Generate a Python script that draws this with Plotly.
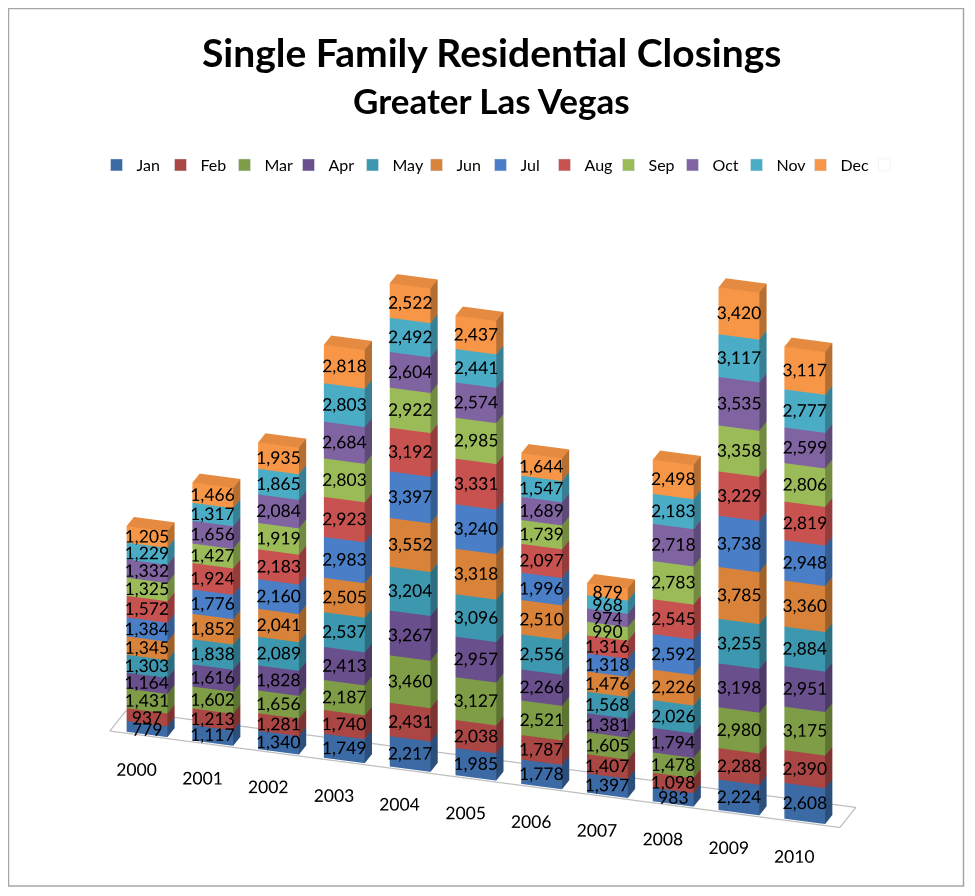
import math
import plotly.graph_objects as go

years = ["2000", "2001", "2002", "2003", "2004", "2005", "2006", "2007", "2008", "2009", "2010"]
months = ["Jan", "Feb", "Mar", "Apr", "May", "Jun", "Jul", "Aug", "Sep", "Oct", "Nov", "Dec"]

jan = [779, 1117, 1340, 1749, 2217, 1985, 1778, 1397, 983, 2224, 2608]
feb = [937, 1213, 1281, 1740, 2431, 2038, 1787, 1407, 1098, 2288, 2390]
mar = [1431, 1602, 1656, 2187, 3460, 3127, 2521, 1605, 1478, 2980, 3175]
apr = [1164, 1616, 1828, 2413, 3267, 2957, 2266, 1381, 1794, 3198, 2951]
may = [1303, 1838, 2089, 2537, 3204, 3096, 2556, 1568, 2026, 3255, 2884]
jun = [1345, 1852, 2041, 2505, 3552, 3318, 2510, 1476, 2226, 3785, 3360]
jul = [1384, 1776, 2160, 2983, 3397, 3240, 1996, 1318, 2592, 3738, 2948]
aug = [1572, 1924, 2183, 2923, 3192, 3331, 2097, 1316, 2545, 3229, 2819]
sep = [1325, 1427, 1919, 2803, 2922, 2985, 1739, 990, 2783, 3358, 2806]
oct_ = [1332, 1656, 2084, 2684, 2604, 2574, 1689, 974, 2718, 3535, 2599]
nov = [1229, 1317, 1865, 2803, 2492, 2441, 1547, 968, 2183, 3117, 2777]
dec = [1205, 1466, 1935, 2818, 2522, 2437, 1644, 879, 2498, 3420, 3117]

series = [jan, feb, mar, apr, may, jun, jul, aug, sep, oct_, nov, dec]
colors = ["#3C6AA5", "#AA4643", "#7E9D46", "#694F8C", "#3D97AE", "#D9823A",
          "#4A7EC6", "#C85250", "#9BBB59", "#8064A2", "#4BACC6", "#F79646"]

FONT = "Lato"
W = 0.62   # column width (category units)
D = 0.34   # column depth
THETA = math.radians(18)   # view azimuth
PHI = math.radians(24)     # view elevation
LAB_Y = -0.3               # labels sit in front of the front face
LAB_DX = -LAB_Y * math.tan(THETA)
LAB_DZ = 640
ZOOM = 1.81


def shade(hexc, f):
    h = hexc.lstrip("#")
    r, g, b = int(h[0:2], 16), int(h[2:4], 16), int(h[4:6], 16)
    return "rgb(%d,%d,%d)" % (int(r * f), int(g * f), int(b * f))


fig = go.Figure()

cum = [0] * len(years)
label_x, label_y, label_z, label_t = [], [], [], []
for name, vals, col in zip(months, series, colors):
    xs, ys, zs, I, J, K, fc = [], [], [], [], [], [], []
    for yi, v in enumerate(vals):
        z0 = cum[yi]
        z1 = z0 + v
        x0, x1 = yi - W / 2, yi + W / 2
        y0, y1 = 0.0, D
        base = len(xs)
        for (a, b, c) in [(x0, y0, z0), (x1, y0, z0), (x1, y1, z0), (x0, y1, z0),
                          (x0, y0, z1), (x1, y0, z1), (x1, y1, z1), (x0, y1, z1)]:
            xs.append(a); ys.append(b); zs.append(c)
        faces = [(0, 1, 5, 1.0), (0, 5, 4, 1.0),
                 (1, 2, 6, 0.74), (1, 6, 5, 0.74),
                 (4, 5, 6, 0.93), (4, 6, 7, 0.93),
                 (3, 0, 4, 1.0), (3, 4, 7, 1.0),
                 (2, 3, 7, 1.0), (2, 7, 6, 1.0),
                 (0, 3, 2, 1.0), (0, 2, 1, 1.0)]
        for (p, q, r, f) in faces:
            I.append(base + p); J.append(base + q); K.append(base + r)
            fc.append(shade(col, f))
        label_x.append(yi + LAB_DX); label_y.append(LAB_Y); label_z.append((z0 + z1) / 2 + LAB_DZ)
        label_t.append(f"{v:,}")
        cum[yi] = z1
    fig.add_trace(go.Mesh3d(x=xs, y=ys, z=zs, i=I, j=J, k=K, facecolor=fc,
                            flatshading=True, hoverinfo="skip", showlegend=False,
                            lighting=dict(ambient=1, diffuse=0, specular=0, roughness=1, fresnel=0)))
    # legend proxy
    fig.add_trace(go.Bar(x=[None], y=[None], name=name, marker_color=col, showlegend=True))

# empty trailing legend slot so the last entry's text is not clipped
fig.add_trace(go.Bar(x=[None], y=[None], name=" ", marker_color="rgba(0,0,0,0)", showlegend=True,
                     hoverinfo="skip"))

# floor outline
fx = [-0.55, 10.55, 10.55, -0.55, -0.55]
fy = [-0.05, -0.05, 0.70, 0.70, -0.05]
fig.add_trace(go.Scatter3d(x=fx, y=fy, z=[0] * 5, mode="lines",
                           line=dict(color="#BFBFBF", width=2.5), hoverinfo="skip", showlegend=False))

# value labels
fig.add_trace(go.Scatter3d(x=label_x, y=label_y, z=label_z, mode="text", text=label_t,
                           textposition="middle center",
                           textfont=dict(family=FONT, size=17.5, color="black"),
                           hoverinfo="skip", showlegend=False))
# category labels
fig.add_trace(go.Scatter3d(x=[i - 0.16 for i in range(len(years))], y=[0.0] * len(years),
                           z=[-2650] * len(years), mode="text", text=years,
                           textposition="middle center",
                           textfont=dict(family=FONT, size=17.5, color="black"),
                           hoverinfo="skip", showlegend=False))

K_EYE = 1.5
eye = dict(x=K_EYE * math.sin(THETA) * math.cos(PHI),
           y=-K_EYE * math.cos(THETA) * math.cos(PHI),
           z=K_EYE * math.sin(PHI))

noax = dict(visible=False, showbackground=False, showgrid=False, zeroline=False)
FW, FH = 967, 888
fig.update_layout(
    width=FW, height=FH,
    margin=dict(l=0, r=0, t=0, b=0),
    paper_bgcolor="white", plot_bgcolor="white",
    font=dict(family=FONT, color="black"),
    xaxis=dict(visible=False), yaxis=dict(visible=False),
    scene=dict(
        domain=dict(x=[0, 1], y=[0, 1]),
        xaxis=dict(range=[-0.76, 11.04], **noax),
        yaxis=dict(range=[-0.7, 1.3], **noax),
        zaxis=dict(range=[-5000, 51560], **noax),
        aspectmode="manual",
        aspectratio=dict(x=0.983 * 1.033 * ZOOM, y=0.1667 * 1.033 * ZOOM, z=1.056 * ZOOM),
        camera=dict(eye=eye, center=dict(x=0, y=0, z=0), up=dict(x=0, y=0, z=1),
                    projection=dict(type="orthographic")),
        bgcolor="rgba(0,0,0,0)",
    ),
    legend=dict(orientation="h", x=0.5 + 21 / FW, xanchor="center", y=1 - 157 / FH, yanchor="middle",
                font=dict(family=FONT, size=16), itemwidth=30, entrywidth=19,
                entrywidthmode="pixels", traceorder="normal", bgcolor="rgba(0,0,0,0)"),
    annotations=[
        dict(text="<b>Single Family Residential Closings</b>", x=0.5, y=1 - 44 / FH,
             xref="paper", yref="paper", showarrow=False, yanchor="middle",
             font=dict(family=FONT, size=39)),
        dict(text="<b>Greater Las Vegas</b>", x=0.5, y=1 - 92 / FH,
             xref="paper", yref="paper", showarrow=False, yanchor="middle",
             font=dict(family=FONT, size=35)),
    ],
    shapes=[dict(type="rect", xref="paper", yref="paper", x0=0.5 / FW, x1=955.5 / FW,
                 y0=1 - 878 / FH, y1=1 - 0.5 / FH, line=dict(color="#A6A6A6", width=1.5))],
)

fig.write_html("out.html")
